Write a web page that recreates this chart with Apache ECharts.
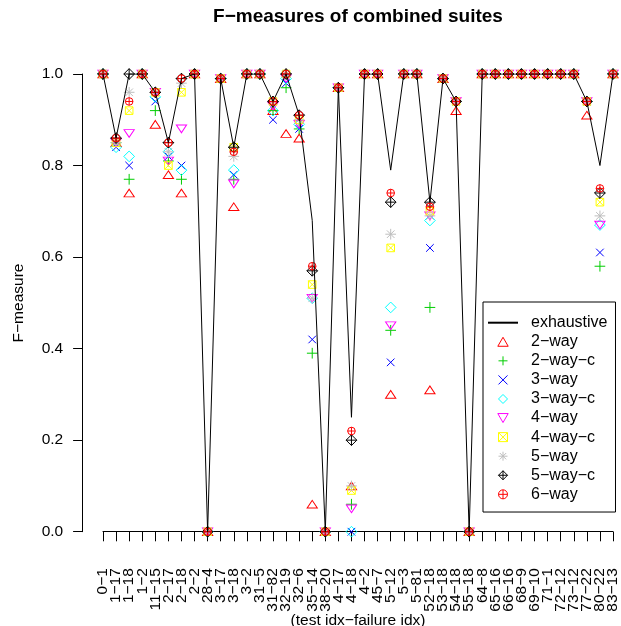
<!DOCTYPE html>
<html>
<head>
    <meta charset="utf-8">
    <title>F-measures of combined suites</title>
    <script src="https://cdn.jsdelivr.net/npm/echarts@6/dist/echarts.min.js"></script>
    <style>
        body { margin: 0; background: #fff; }
        #main { width: 621px; height: 626px; }
    </style>
</head>
<body>
<div id="main"></div>
<script type="text/javascript">
    // test idx - failure idx
    var categories = ['0−1','1−17','1−18','1−2','11−15','2−17','2−18','2−2','28−4','3−17',
        '3−18','3−2','31−5','31−82','32−19','32−6','35−14','38−20','4−17','4−18',
        '4−2','45−7','5−12','5−3','5−81','52−18','53−18','54−18','55−18','64−8',
        '65−16','66−16','68−9','69−10','71−1','72−12','73−12','77−22','80−22','83−13'];

    var exhaustive = [1,0.86,1,1,0.96,0.85,0.99,1,0,0.99, 0.84,1,1,0.94,1,0.91,0.68,0,0.97,0.25,
        1,1,0.79,1,1,0.72,0.99,0.94,0,1, 1,1,1,1,1,1,1,0.94,0.80,1];
    var way2   = [1,0.85,0.74,1,0.89,0.78,0.74,1,0,0.99, 0.71,1,1,0.92,0.87,0.86,0.06,0,0.97,0.10,
        1,1,0.30,1,1,0.31,0.99,0.92,0,1, 1,1,1,1,1,1,1,0.91,0.34,1];
    var way2c  = [1,0.85,0.77,1,0.92,0.81,0.77,1,0,0.99, 0.77,1,1,0.92,0.97,0.88,0.39,0,0.97,0.06,
        1,1,0.44,1,1,0.49,0.99,0.94,0,1, 1,1,1,1,1,1,1,0.94,0.58,1];
    var way3   = [1,0.84,0.80,1,0.94,0.82,0.80,1,0,0.99, 0.78,1,1,0.90,0.98,0.88,0.42,0,0.97,0,
        1,1,0.37,1,1,0.62,0.99,0.94,0,1, 1,1,1,1,1,1,1,0.94,0.61,1];
    var way3c  = [1,0.84,0.82,1,0.95,0.83,0.79,1,0,0.99, 0.79,1,1,0.92,0.99,0.89,0.51,0,0.97,0,
        1,1,0.49,1,1,0.68,0.99,0.94,0,1, 1,1,1,1,1,1,1,0.94,0.67,1];
    var way4   = [1,0.85,0.87,1,0.96,0.81,0.88,1,0,0.99, 0.76,1,1,0.93,0.99,0.89,0.51,0,0.97,0.05,
        1,1,0.45,1,1,0.69,0.99,0.94,0,1, 1,1,1,1,1,1,1,0.94,0.67,1];
    var way4c  = [1,0.85,0.92,1,0.96,0.80,0.96,1,0,0.99, 0.84,1,1,0.94,1,0.90,0.54,0,0.97,0.09,
        1,1,0.62,1,1,0.70,0.99,0.94,0,1, 1,1,1,1,1,1,1,0.94,0.72,1];
    var way5   = [1,0.85,0.96,1,0.96,0.83,0.98,1,0,0.99, 0.82,1,1,0.94,1,0.90,0.51,0,0.97,0.10,
        1,1,0.65,1,1,0.69,0.99,0.94,0,1, 1,1,1,1,1,1,1,0.94,0.69,1];
    var way5c  = [1,0.86,1,1,0.96,0.85,0.99,1,0,0.99, 0.84,1,1,0.94,1,0.91,0.57,0,0.97,0.20,
        1,1,0.72,1,1,0.72,0.99,0.94,0,1, 1,1,1,1,1,1,1,0.94,0.74,1];
    var way6   = [1,0.86,0.94,1,0.96,0.85,0.99,1,0,0.99, 0.83,1,1,0.94,1,0.91,0.58,0,0.97,0.22,
        1,1,0.74,1,1,0.71,0.99,0.94,0,1, 1,1,1,1,1,1,1,0.94,0.75,1];

    var yTicks = [0, 0.2, 0.4, 0.6, 0.8, 1.0];

    // R pch 2..10 drawn as outline paths
    var pch = {
        triUp:    'path://M0,-1.555L1.347,0.778L-1.347,0.778Z',
        plus:     'path://M-1.414,0L1.414,0M0,-1.414L0,1.414',
        cross:    'path://M-1,-1L1,1M-1,1L1,-1',
        diamond:  'path://M0,-1.414L1.414,0L0,1.414L-1.414,0Z',
        triDown:  'path://M0,1.555L1.347,-0.778L-1.347,-0.778Z',
        boxCross: 'path://M-1,-1L1,-1L1,1L-1,1ZM-1,-1L1,1M-1,1L1,-1',
        star:     'path://M-1.414,0L1.414,0M0,-1.414L0,1.414M-1,-1L1,1M-1,1L1,-1',
        diaPlus:  'path://M0,-1.414L1.414,0L0,1.414L-1.414,0ZM-1.414,0L1.414,0M0,-1.414L0,1.414',
        cirPlus:  'path://M-1,0A1,1,0,1,1,1,0A1,1,0,1,1,-1,0ZM-1,0L1,0M0,-1L0,1'
    };

    var font = "'Liberation Sans', Arial, Helvetica, sans-serif";

    function pts(name, data, symbol, size, color) {
        return {
            name: name,
            type: 'scatter',
            data: data,
            symbol: symbol,
            symbolSize: size,
            symbolKeepAspect: true,
            itemStyle: { color: 'transparent', borderColor: color, borderWidth: 1, opacity: 1 }
        };
    }

    var myChart = echarts.init(document.getElementById('main'));

    var option = {
        animation: false,
        backgroundColor: '#fff',
        graphic: [
            { type: 'text', x: 358, y: 17,
              style: { text: 'F−measures of combined suites', align: 'center', verticalAlign: 'middle',
                       font: 'bold 19px ' + font, fill: '#000' } },
            { type: 'text', x: 19, y: 303, rotation: Math.PI / 2,
              style: { text: 'F−measure', align: 'center', verticalAlign: 'middle',
                       font: '15.5px ' + font, fill: '#000' } },
            { type: 'text', x: 358, y: 621,
              style: { text: '(test idx−failure idx)', align: 'center', verticalAlign: 'middle',
                       font: '15.5px ' + font, fill: '#000' } }
        ],
        grid: { left: 103, right: 7, top: 74, bottom: 94.3, containLabel: false },
        legend: {
            orient: 'vertical',
            left: 483,
            top: 302,
            selectedMode: false,
            itemWidth: 30,
            itemHeight: 9,
            itemGap: 3.07,
            padding: [12.7, 8, 9.7, 4],
            borderColor: '#000',
            borderWidth: 1,
            borderRadius: 0,
            backgroundColor: '#fff',
            itemStyle: { borderWidth: 1 },
            textStyle: { fontSize: 16, lineHeight: 16, fontFamily: font, color: '#000', padding: [0, 0, 0, 8] },
            data: [
                { name: 'exhaustive', itemStyle: { color: 'transparent', borderWidth: 0, opacity: 0 } },
                '2−way','2−way−c','3−way','3−way−c','4−way','4−way−c','5−way','5−way−c','6−way'
            ]
        },
        xAxis: {
            type: 'category',
            data: categories,
            boundaryGap: false,
            offset: 17.3,
            axisLine: { show: true, lineStyle: { color: '#000', width: 1 } },
            axisTick: { show: true, interval: 0, length: 9.6, lineStyle: { color: '#000', width: 1 } },
            axisLabel: { interval: 0, rotate: 90, margin: 19.2, fontSize: 15.5, fontFamily: font, color: '#000' },
            splitLine: { show: false }
        },
        yAxis: {
            type: 'value',
            min: yTicks[0],
            max: yTicks[yTicks.length - 1],
            interval: 0.2,
            offset: 20.3,
            axisLine: { show: true, lineStyle: { color: '#000', width: 1 } },
            axisTick: { show: true, length: 9.6, lineStyle: { color: '#000', width: 1 } },
            axisLabel: { margin: 19.5, fontSize: 15.5, fontFamily: font, color: '#000',
                         formatter: function (v) { return v.toFixed(1); } },
            splitLine: { show: false }
        },
        series: [
            {
                name: 'exhaustive',
                type: 'line',
                data: exhaustive,
                symbol: 'none',
                lineStyle: { color: '#000', width: 1 },
                itemStyle: { color: '#000' }
            },
            pts('2−way',   way2,  pch.triUp,    [10.2, 8.9], '#FF0000'),
            pts('2−way−c', way2c, pch.plus,     10.7, '#00CD00'),
            pts('3−way',   way3,  pch.cross,    7.6,  '#0000FF'),
            pts('3−way−c', way3c, pch.diamond,  10.7, '#00FFFF'),
            pts('4−way',   way4,  pch.triDown,  [10.2, 8.9], '#FF00FF'),
            pts('4−way−c', way4c, pch.boxCross, 7.6,  '#FFFF00'),
            pts('5−way',   way5,  pch.star,     10.7, '#BEBEBE'),
            pts('5−way−c', way5c, pch.diaPlus,  10.7, '#000000'),
            pts('6−way',   way6,  pch.cirPlus,  7.6,  '#FF0000')
        ]
    };

    myChart.setOption(option);
</script>
</body>
</html>
